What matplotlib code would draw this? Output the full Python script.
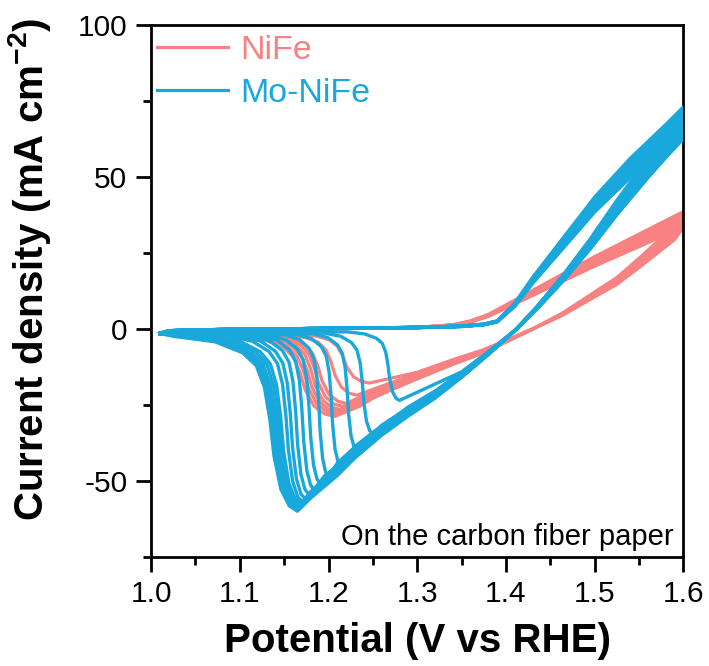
import matplotlib.pyplot as plt
from matplotlib.lines import Line2D
from matplotlib.ticker import MultipleLocator

plt.rcParams['font.family'] = ['Liberation Sans', 'DejaVu Sans']
plt.rcParams['mathtext.fontset'] = 'custom'
plt.rcParams['mathtext.rm'] = 'Liberation Sans'
plt.rcParams['mathtext.bf'] = 'Liberation Sans:bold'
plt.rcParams['axes.unicode_minus'] = False

PINK = '#F88182'
BLUE = '#19A8DC'

x_ticks = [1.0, 1.1, 1.2, 1.3, 1.4, 1.5, 1.6]
x_labels = ['1.0', '1.1', '1.2', '1.3', '1.4', '1.5', '1.6']
y_ticks = [-50, 0, 50, 100]
y_labels = ['-50', '0', '50', '100']

# shape of the return to baseline after the reduction peak:
# potential offset in units of (peak - drop), current as fraction of peak
recov_u = [0.0, 0.3, 0.6, 0.85, 1.0, 1.2, 1.5, 2.0, 3.0, 4.5]
recov_f = [1.0, 0.97, 0.88, 0.70, 0.50, 0.32, 0.20, 0.13, 0.07, 0.04]

# NiFe - anodic sweep and shared cathodic branch
nife_fwd_v = [1.01, 1.02, 1.05, 1.10, 1.20, 1.30, 1.34, 1.36, 1.38, 1.40, 1.45, 1.50, 1.55, 1.60]
nife_fwd_i = [-1.5, -0.7, -0.4, -0.2, 0.1, 0.5, 1.3, 2.5, 4.5, 7.5, 15.0, 22.5, 29.5, 36.5]
nife_rev_v = [1.60, 1.59, 1.574, 1.55, 1.525, 1.50, 1.464, 1.43, 1.408, 1.374, 1.34, 1.30, 1.27, 1.25, 1.235, 1.222]
nife_rev_i = [36.5, 32.0, 28.0, 22.0, 16.0, 11.5, 5.0, 0.0, -3.0, -7.5, -11.0, -15.5, -19.0, -21.5, -24.0, -26.0]
# NiFe - per cycle
nife_peak_v = [1.246, 1.232, 1.220, 1.216, 1.213, 1.211, 1.209, 1.207]
nife_peak_i = [-17.8, -21.8, -24.5, -25.5, -26.5, -27.3, -28.0, -28.8]
nife_drop_v = [1.216, 1.203, 1.188, 1.184, 1.180, 1.176, 1.172, 1.168]
nife_join_v = [1.29, 1.27, 1.235, 1.235, 1.222, 1.222, 1.222, 1.222]
nife_gain = [0.92, 0.94, 0.96, 0.98, 1.0, 1.02, 1.04, 1.06]

# Mo-NiFe - anodic sweep and shared cathodic branch
mo_fwd_v = [1.01, 1.02, 1.05, 1.10, 1.20, 1.30, 1.35, 1.375, 1.39, 1.41, 1.43, 1.465, 1.50, 1.54, 1.58, 1.60]
mo_fwd_i = [-1.5, -0.6, -0.3, -0.1, 0.2, 0.5, 0.9, 1.5, 2.5, 8.0, 16.0, 28.5, 41.0, 53.0, 63.5, 69.0]
mo_rev_v = [1.60, 1.598, 1.58, 1.56, 1.525, 1.495, 1.465, 1.435, 1.41, 1.38, 1.35, 1.32, 1.29, 1.26, 1.23, 1.21, 1.195, 1.18, 1.17]
mo_rev_i = [69.0, 66.0, 60.0, 53.0, 40.0, 28.0, 17.0, 7.0, -0.5, -8.0, -15.0, -21.5, -27.0, -33.0, -40.0, -45.5, -49.0, -52.5, -55.0]
# Mo-NiFe - per cycle
mo_peak_v = [1.280, 1.250, 1.232, 1.214, 1.200, 1.191, 1.184, 1.178, 1.174, 1.171, 1.169, 1.168, 1.167, 1.166, 1.166, 1.165]
mo_peak_i = [-23.5, -34.5, -40.0, -45.0, -48.5, -51.0, -53.0, -54.5, -56.0, -57.0, -57.5, -58.0, -58.5, -59.0, -59.5, -60.0]
mo_drop_v = [1.267, 1.238, 1.221, 1.203, 1.189, 1.178, 1.170, 1.163, 1.157, 1.152, 1.146, 1.143, 1.140, 1.138, 1.136, 1.134]
mo_join_v = [1.33, 1.26, 1.24, 1.222, 1.208, 1.198, 1.19, 1.186, 1.183, 1.181, 1.179, 1.178, 1.177, 1.176, 1.176, 1.175]
mo_gain = [0.94, 0.95, 0.96, 0.965, 0.97, 0.98, 0.99, 1.0, 1.005, 1.01, 1.02, 1.03, 1.035, 1.045, 1.05, 1.06]


def sweep(fwd_v, fwd_i, rev_v, rev_i, pv, pi, dv, jv, g):
    # one full cycle: anodic sweep, cathodic branch down to the peak, back to baseline
    v, i = [], []
    for x, y in zip(fwd_v, fwd_i):
        v.append(x)
        i.append(y * g)
    for x, y in zip(rev_v, rev_i):
        if x > jv:
            v.append(x)
            i.append(y * g)
    w = pv - dv
    for u, f in zip(recov_u, recov_f):
        v.append(pv - u * w)
        i.append(pi * f)
    v.append(fwd_v[0])
    i.append(fwd_i[0])
    return v, i


fig = plt.figure(figsize=(7.09, 6.66), dpi=100)
ax = fig.add_axes([0.213, 0.164, 0.751, 0.798])

for k in range(len(nife_peak_v)):
    v, i = sweep(nife_fwd_v, nife_fwd_i, nife_rev_v, nife_rev_i, nife_peak_v[k],
                 nife_peak_i[k], nife_drop_v[k], nife_join_v[k], nife_gain[k])
    ax.plot(v, i, color=PINK, lw=2.3, zorder=2, solid_joinstyle='round')

for k in range(len(mo_peak_v)):
    v, i = sweep(mo_fwd_v, mo_fwd_i, mo_rev_v, mo_rev_i, mo_peak_v[k],
                 mo_peak_i[k], mo_drop_v[k], mo_join_v[k], mo_gain[k])
    ax.plot(v, i, color=BLUE, lw=2.4, zorder=3, solid_joinstyle='round')

ax.set_xlim(1.0, 1.6)
ax.set_ylim(-75, 100)
ax.set_xticks(x_ticks)
ax.set_xticklabels(x_labels)
ax.set_yticks(y_ticks)
ax.set_yticklabels(y_labels)
ax.xaxis.set_minor_locator(MultipleLocator(0.05))
ax.yaxis.set_minor_locator(MultipleLocator(25))
ax.tick_params(which='major', direction='out', length=11, width=2, labelsize=21.5, pad=6)
ax.tick_params(which='minor', direction='out', length=5.5, width=2)
for s in ax.spines.values():
    s.set_linewidth(2)

ax.set_xlabel('Potential (V vs RHE)', fontsize=29, fontweight='bold', labelpad=10)
ax.set_ylabel(r'Current density (mA cm$^{\mathregular{-2}}$)', fontsize=29,
              fontweight='bold')
ax.yaxis.set_label_coords(-0.185, 0.54)

handles = [Line2D([], [], color=PINK, lw=2.3), Line2D([], [], color=BLUE, lw=2.3)]
ax.legend(handles, ['NiFe', 'Mo-NiFe'], loc='upper left', bbox_to_anchor=(0.011, 0.982),
          frameon=False, fontsize=24.5, handlelength=2.1, handletextpad=0.35,
          labelspacing=0.36, borderpad=0, borderaxespad=0, labelcolor='linecolor')

ax.text(0.982, 0.022, 'On the carbon fiber paper', transform=ax.transAxes,
        ha='right', va='baseline', fontsize=21)

fig.savefig('out.png', dpi=100)
